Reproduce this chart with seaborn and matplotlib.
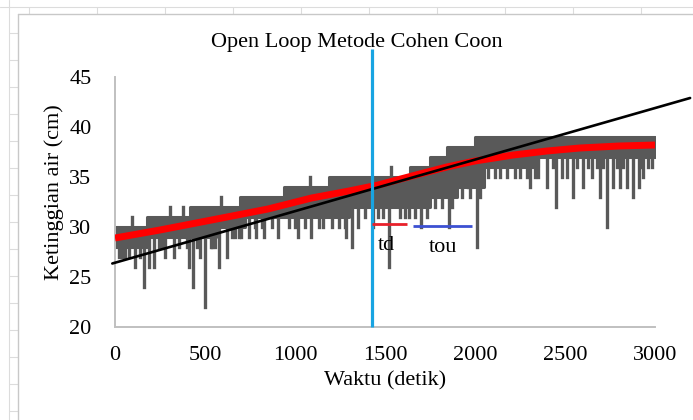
import numpy as np
import matplotlib
matplotlib.use("Agg")
import matplotlib.pyplot as plt
from matplotlib.lines import Line2D
import seaborn as sns

# ---- data ----
# measured water level: stepped upper / lower edge of the dense band (s, cm)
top_t = [0, 178, 419, 696, 937, 1187, 1639, 1750, 1843, 2000, 3000]
top_v = [30, 31, 32, 33, 34, 35, 36, 37, 38, 39, 39]
bot_t = [0, 178, 560, 720, 1050, 1300, 1750, 1900, 2050, 2350, 3000]
bot_v = [28, 29, 30, 31, 31, 32, 33, 34, 36, 37, 37]
# short upward peaks
peak_t = [92, 307, 378, 591, 1085, 1536]
peak_v = [31, 32, 32, 33, 35, 36]
# downward spikes
dip_t = [20, 57, 113, 159, 187, 215, 280, 326, 409, 436, 470, 498, 531, 576, 622,
         668, 701, 747, 784, 830, 904, 969, 1015, 1089, 1154, 1246, 1283, 1317,
         1348, 1431, 1459, 1491, 1524, 1635, 1698, 1733, 1796, 1856, 1898, 1963,
         2009, 2074, 2139, 2222, 2306, 2352, 2398, 2450, 2481, 2509, 2546, 2602,
         2648, 2694, 2735, 2768, 2805, 2842, 2879, 2913, 2935, 2963,
         39, 76, 141, 243, 261, 354, 400, 456, 539, 557, 650, 687, 780, 817,
         872, 1002, 1057, 1131, 1206, 1280, 1391, 1583, 1611, 1667, 1778, 1815,
         1870, 1926, 1972, 2028, 2111, 2176, 2250, 2287, 2333, 2435, 2565, 2630,
         2676, 2713, 2787, 2824, 2917, 2981]
dip_v = [27, 27, 26, 24, 26, 26, 27, 27, 26, 24, 27, 22, 28, 26, 27,
         29, 29, 29, 29, 29, 29, 30, 29, 29, 30, 30, 29, 28,
         30, 30, 31, 31, 26, 31, 30, 31, 33, 30, 33, 35,
         28, 35, 35, 35, 34, 35, 34, 32, 35, 35, 33, 34,
         35, 33, 30, 34, 34, 34, 33, 34, 35, 36,
         27, 27, 27, 28, 28, 28, 28, 28, 28, 28, 29, 29, 30, 30,
         30, 30, 30, 30, 30, 30, 31, 31, 31, 31, 32, 32,
         32, 33, 33, 33, 35, 35, 35, 35, 35, 36, 36, 36,
         36, 36, 36, 36, 36, 36]
# red smoothed curve
trend_t = [0, 250, 537, 850, 1092, 1300, 1462, 1650, 1843, 2000, 2213, 2400, 2583, 2800, 3000]
trend_v = [28.9, 29.7, 30.7, 31.8, 32.9, 33.6, 34.2, 35.1, 36.0, 36.6, 37.2, 37.6, 37.9, 38.1, 38.2]
# black tangent line
tangent_t = [-15, 3195]
tangent_v = [26.35, 42.9]
# blue vertical marker
marker_t = [1426, 1426]
marker_v = [20, 47.8]
# td / tou segments
td_t = [1426, 1624]
td_v = [30.3, 30.3]
tou_t = [1657, 1981]
tou_v = [30.1, 30.1]
label_td = ("td", 1509, 28.2)
label_tou = ("tou", 1824, 28.0)

title = "Open Loop Metode Cohen Coon"
xlabel = "Waktu (detik)"
ylabel = "Ketinggian air (cm)"
xticks = [0, 500, 1000, 1500, 2000, 2500, 3000]
yticks = [20, 25, 30, 35, 40, 45]

# ---- style ----
sns.set_theme(style="white")
plt.rcParams["font.family"] = ["Liberation Serif", "DejaVu Serif"]
GRAY = "#595959"

W, H = 693, 420
fig = plt.figure(figsize=(W / 100, H / 100), dpi=100)
fig.patch.set_facecolor("white")

# spreadsheet-like surroundings
grid_c = "#dcdcdc"
fig.add_artist(Line2D([0, 1], [1 - 7 / H] * 2, color=grid_c, lw=0.8))
fig.add_artist(Line2D([9 / W] * 2, [0, 1], color=grid_c, lw=0.8))
for x in range(29, W, 68):
    fig.add_artist(Line2D([x / W] * 2, [1 - 7 / H, 1 - 14 / H], color=grid_c, lw=0.8))
for y in range(33, H, 27):
    fig.add_artist(Line2D([9 / W, 18 / W], [1 - y / H] * 2, color=grid_c, lw=0.8))
fig.add_artist(Line2D([18 / W, 1], [1 - 14 / H] * 2, color="#c8c8c8", lw=1.0))
fig.add_artist(Line2D([18 / W] * 2, [0, 1 - 14 / H], color="#c8c8c8", lw=1.0))

ax = fig.add_axes([115 / W, 1 - 327 / H, 540 / W, 250 / H])
ax.set_facecolor("white")

# gray band
top_t_a = np.array(top_t); top_v_a = np.array(top_v)
bot_t_a = np.array(bot_t); bot_v_a = np.array(bot_v)
def step_at(ts, vs, t):
    i = np.searchsorted(ts, t, side="right") - 1
    return vs[np.clip(i, 0, len(vs) - 1)]
xg = np.unique(np.concatenate([top_t_a, bot_t_a]))
hi = step_at(top_t_a, top_v_a, xg)
lo = step_at(bot_t_a, bot_v_a, xg)
ax.fill_between(xg, lo, hi, step="post", facecolor=GRAY, edgecolor=GRAY,
                linewidth=2.2, zorder=2)
dt = np.array(dip_t); dv = np.array(dip_v)
ax.vlines(dt, dv, step_at(bot_t_a, bot_v_a, dt), color=GRAY, lw=2.4,
          capstyle="projecting", zorder=2)
pt = np.array(peak_t); pv = np.array(peak_v)
ax.vlines(pt, step_at(top_t_a, top_v_a, pt), pv, color=GRAY, lw=2.4,
          capstyle="projecting", zorder=2)

# red smoothed curve
sns.lineplot(x=trend_t, y=trend_v, ax=ax, color="#ff0000", lw=5,
             solid_capstyle="butt", zorder=3)
# tangent
sns.lineplot(x=tangent_t, y=tangent_v, ax=ax, color="black", lw=1.9, zorder=4)
ax.lines[-1].set_clip_on(False)
# vertical marker
ax.plot(marker_t, marker_v, color="#18a4e2", lw=2.3, zorder=5, clip_on=False,
        solid_capstyle="butt")
# td / tou
ax.plot(td_t, td_v, color="#e8202a", lw=2.0, zorder=5, solid_capstyle="butt")
ax.plot(tou_t, tou_v, color="#3c50d2", lw=2.0, zorder=5, solid_capstyle="butt")
ax.text(label_td[1], label_td[2], label_td[0], fontsize=16, ha="center",
        va="center", color="black", zorder=6)
ax.text(label_tou[1], label_tou[2], label_tou[0], fontsize=16, ha="center",
        va="center", color="black", zorder=6)

ax.set_xlim(0, 3000)
ax.set_ylim(20, 45)
ax.set_xticks(xticks)
ax.set_yticks(yticks)
ax.tick_params(axis="both", length=0, labelsize=16, colors="black")
ax.tick_params(axis="y", pad=17)
ax.tick_params(axis="x", pad=14)
for s in ["top", "right"]:
    ax.spines[s].set_visible(False)
for s in ["left", "bottom"]:
    ax.spines[s].set_color("#c0c0c0")
    ax.spines[s].set_linewidth(1.4)
ax.grid(False)

ax.set_xlabel(xlabel, fontsize=16, color="black")
ax.set_ylabel(ylabel, fontsize=16, color="black")
ax.xaxis.set_label_coords(0.5, -0.175)
ax.yaxis.set_label_coords(-0.095, 0.54)

fig.text(357 / W, 1 - 42 / H, title, fontsize=16, ha="center", va="center",
         color="black")

fig.savefig("out.png", dpi=100, facecolor="white")
